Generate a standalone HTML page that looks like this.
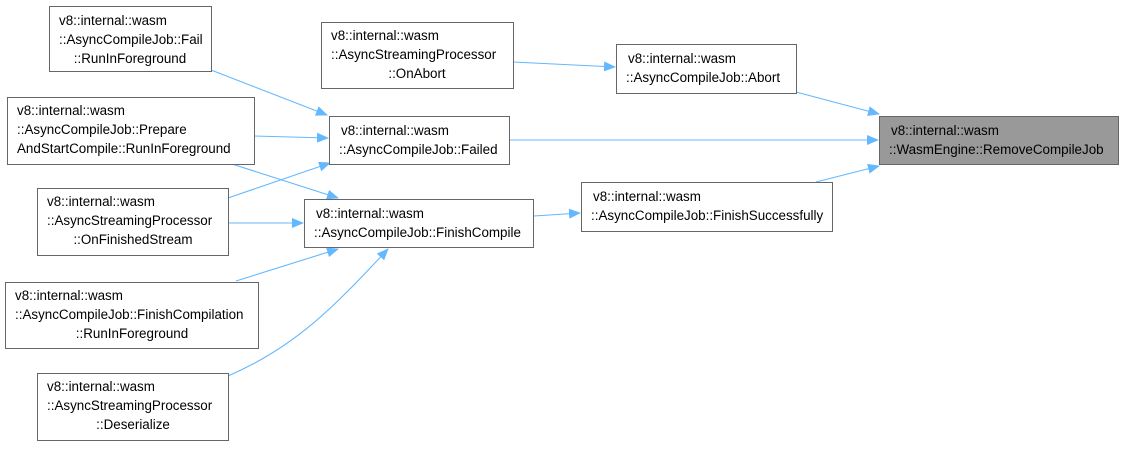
<!DOCTYPE html>
<html><head><meta charset="utf-8"><style>
body{margin:0;background:#fff;width:1123px;height:446px;overflow:hidden}
svg text{font-family:"Liberation Sans",sans-serif;font-size:13.4px;fill:#000}
</style></head><body>
<svg width="1123" height="446" xmlns="http://www.w3.org/2000/svg">
<defs><marker id="a" markerWidth="12" markerHeight="10" refX="11" refY="5" orient="auto" markerUnits="userSpaceOnUse"><path d="M0,0 L12,5 L0,10 z" fill="#63b8ff"/></marker></defs>
<g stroke="#63b8ff" stroke-width="1.1" fill="none" marker-end="url(#a)">
<line x1="211" y1="70" x2="327" y2="115"/>
<line x1="254" y1="136" x2="328" y2="138"/>
<line x1="232" y1="164" x2="338" y2="198"/>
<line x1="228" y1="198" x2="330" y2="163"/>
<line x1="228" y1="223" x2="303" y2="223"/>
<line x1="236" y1="281" x2="338" y2="249"/>
<path d="M228,376 C300,345 340,300 388,249"/>
<line x1="513" y1="62" x2="615" y2="67"/>
<line x1="796" y1="92" x2="879" y2="114"/>
<line x1="509" y1="140" x2="878" y2="140"/>
<line x1="534" y1="216" x2="580" y2="213"/>
<line x1="816" y1="182" x2="879" y2="166"/>
</g>
<g stroke="#666" stroke-width="1" fill="#fff">
<rect x="49.5" y="6.5" width="162" height="65"/>
<rect x="7.5" y="97.5" width="247" height="67"/>
<rect x="37.5" y="188.5" width="191" height="67"/>
<rect x="5.5" y="282.5" width="253" height="66"/>
<rect x="37.5" y="373.5" width="191" height="67"/>
<rect x="321.5" y="22.5" width="192" height="66"/>
<rect x="329.5" y="116.5" width="180" height="48"/>
<rect x="304.5" y="199.5" width="229" height="48"/>
<rect x="616.5" y="44.5" width="180" height="49"/>
<rect x="581.5" y="182.5" width="251" height="49"/>
<rect x="879.5" y="116.5" width="239" height="48" fill="#999"/>
</g>
<text x="59" y="25">v8::internal::wasm</text><text x="59" y="44">::AsyncCompileJob::Fail</text><text x="130" y="63" text-anchor="middle">::RunInForeground</text>
<text x="17" y="115">v8::internal::wasm</text><text x="17" y="134">::AsyncCompileJob::Prepare</text><text x="17" y="153">AndStartCompile::RunInForeground</text>
<text x="47" y="206">v8::internal::wasm</text><text x="47" y="225">::AsyncStreamingProcessor</text><text x="133" y="244" text-anchor="middle">::OnFinishedStream</text>
<text x="15" y="300">v8::internal::wasm</text><text x="15" y="319">::AsyncCompileJob::FinishCompilation</text><text x="132" y="338" text-anchor="middle">::RunInForeground</text>
<text x="47" y="391">v8::internal::wasm</text><text x="47" y="410">::AsyncStreamingProcessor</text><text x="133" y="429" text-anchor="middle">::Deserialize</text>
<text x="331" y="40">v8::internal::wasm</text><text x="331" y="59">::AsyncStreamingProcessor</text><text x="417" y="78" text-anchor="middle">::OnAbort</text>
<text x="341" y="135">v8::internal::wasm</text><text x="339" y="154">::AsyncCompileJob::Failed</text>
<text x="316" y="218">v8::internal::wasm</text><text x="314" y="237">::AsyncCompileJob::FinishCompile</text>
<text x="628" y="63">v8::internal::wasm</text><text x="626" y="82">::AsyncCompileJob::Abort</text>
<text x="593" y="201">v8::internal::wasm</text><text x="591" y="220">::AsyncCompileJob::FinishSuccessfully</text>
<text x="891" y="135">v8::internal::wasm</text><text x="889" y="154">::WasmEngine::RemoveCompileJob</text>
</svg>
</body></html>
